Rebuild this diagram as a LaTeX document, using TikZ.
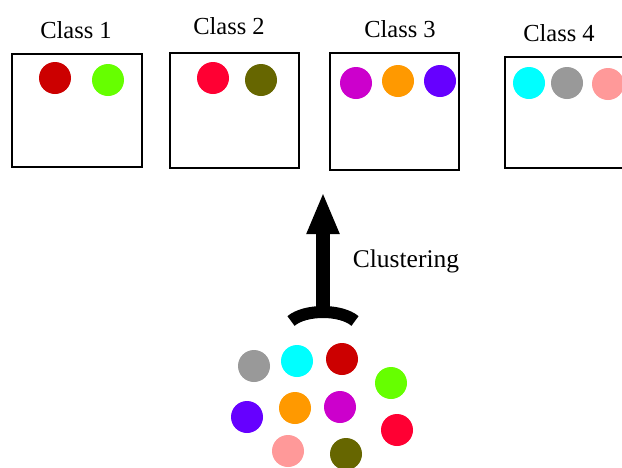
\documentclass[tikz,border=0pt]{standalone}
\usepackage{fontspec}
\setmainfont{Liberation Serif}
\usetikzlibrary{arrows.meta}
\definecolor{cDarkRed}{HTML}{CC0000}
\definecolor{cGreen}{HTML}{66FF00}
\definecolor{cRed}{HTML}{FF0033}
\definecolor{cOlive}{HTML}{666600}
\definecolor{cMagenta}{HTML}{CC00CC}
\definecolor{cOrange}{HTML}{FF9900}
\definecolor{cViolet}{HTML}{6600FF}
\definecolor{cCyan}{HTML}{00FFFF}
\definecolor{cGray}{HTML}{999999}
\definecolor{cPink}{HTML}{FF9999}
\tikzset{
  classbox/.style={draw=black, line width=2pt, fill=white, inner sep=0pt},
  dot/.style={circle, fill=#1, draw=none, minimum size=32pt, inner sep=0pt},
  lbl/.style={font=\fontsize{24.5}{28}\selectfont, inner sep=0pt},
}
\begin{document}
\begin{tikzpicture}[x=1pt,y=-1pt]
\useasboundingbox (0,0) rectangle (622,467);
% boxes
\node[classbox, minimum width=130pt, minimum height=113pt] (box1) at (77,110.5) {};
\node[classbox, minimum width=129pt, minimum height=115pt] (box2) at (234.5,110.5) {};
\node[classbox, minimum width=129pt, minimum height=117pt] (box3) at (394.5,111.5) {};
\node[classbox, minimum width=140pt, minimum height=111pt, anchor=west] (box4) at (504,112.5) {};
% labels
\node[lbl] (t1) at (76,30) {Class 1};
\node[lbl] (t2) at (229,26) {Class 2};
\node[lbl] (t3) at (400,29) {Class 3};
\node[lbl] (t4) at (559,33) {Class 4};
\node[lbl, font=\fontsize{25.5}{29}\selectfont] (tc) at (406,261) {Clustering};
% circles in boxes
\node[dot=cDarkRed] (a1) at (55,78) {};
\node[dot=cGreen] (a2) at (108,80) {};
\node[dot=cRed] (b1) at (213,78) {};
\node[dot=cOlive] (b2) at (261,80) {};
\node[dot=cMagenta] (c1) at (356,83) {};
\node[dot=cOrange] (c2) at (398,81) {};
\node[dot=cViolet] (c3) at (440,81) {};
\node[dot=cCyan] (d1) at (529,83) {};
\node[dot=cGray] (d2) at (567,83) {};
\node[dot=cPink] (d3) at (608,84) {};
% arrow
\coordinate (arcL) at (291,321);
\coordinate (arcR) at (355,321);
\coordinate (base) at (323,312);
\coordinate (tip) at (323,192);
\draw[line width=12pt] (arcL) .. controls (305,309) and (341,309) .. (arcR);
\draw[line width=14pt, -{Triangle[width=30pt,length=42pt]}] (base) -- (tip);
% cluster circles
\node[dot=cGray] (p1) at (254,366) {};
\node[dot=cCyan] (p2) at (297,361) {};
\node[dot=cDarkRed] (p3) at (342,359) {};
\node[dot=cGreen] (p4) at (391,383) {};
\node[dot=cViolet] (p5) at (247,417) {};
\node[dot=cOrange] (p6) at (295,408) {};
\node[dot=cMagenta] (p7) at (340,407) {};
\node[dot=cRed] (p8) at (397,430) {};
\node[dot=cPink] (p9) at (288,451) {};
\node[dot=cOlive] (p10) at (346,454) {};
\end{tikzpicture}
\end{document}
